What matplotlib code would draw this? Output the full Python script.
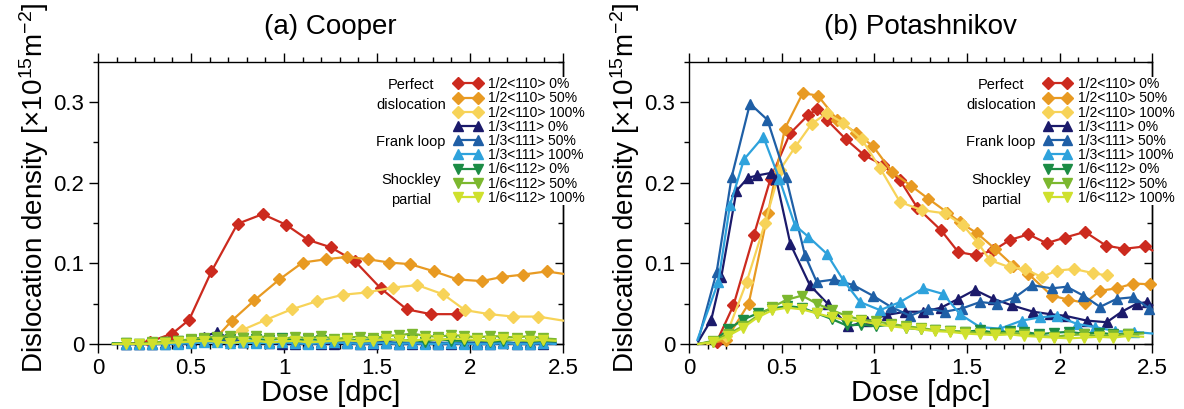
#!/usr/bin/env python3
"""Dislocation density vs dose for two interatomic potentials (Cooper / Potashnikov)."""

import matplotlib
matplotlib.use("Agg")
import matplotlib.pyplot as plt
from matplotlib.ticker import MultipleLocator

plt.rcParams["font.family"] = ["Liberation Sans", "DejaVu Sans"]
plt.rcParams["mathtext.fontset"] = "custom"
plt.rcParams["mathtext.rm"] = "Liberation Sans"
plt.rcParams["mathtext.it"] = "Liberation Sans:italic"

# ─────────────────────────────────────────────────────────────────────────────
# Data
# ─────────────────────────────────────────────────────────────────────────────

LABELS = [
    "1/2<110> 0%", "1/2<110> 50%", "1/2<110> 100%",
    "1/3<111> 0%", "1/3<111> 50%", "1/3<111> 100%",
    "1/6<112> 0%", "1/6<112> 50%", "1/6<112> 100%",
]

# (a) Cooper -- perfect dislocations
a_p0_x = [0.15, 0.28, 0.40, 0.49, 0.61, 0.75, 0.885, 1.01, 1.13, 1.25, 1.38, 1.52, 1.66, 1.79, 1.93]
a_p0_y = [0.000, 0.003, 0.013, 0.030, 0.090, 0.149, 0.161, 0.148, 0.129, 0.120, 0.103, 0.069, 0.043, 0.037, 0.037]
a_p50_x = [0.62, 0.72, 0.84, 0.975, 1.10, 1.224, 1.34, 1.453, 1.566, 1.677, 1.808, 1.934, 2.063, 2.17, 2.283, 2.412, 2.5]
a_p50_y = [0.004, 0.029, 0.054, 0.080, 0.101, 0.105, 0.108, 0.105, 0.101, 0.099, 0.090, 0.080, 0.078, 0.083, 0.086, 0.090, 0.087]
a_p100_x = [0.64, 0.772, 0.903, 1.041, 1.176, 1.315, 1.448, 1.584, 1.717, 1.857, 1.973, 2.104, 2.233, 2.367, 2.5]
a_p100_y = [0.004, 0.017, 0.030, 0.043, 0.053, 0.061, 0.064, 0.070, 0.073, 0.0615, 0.042, 0.037, 0.034, 0.034, 0.029]

# (a) Cooper -- Frank loops and Shockley partials (all close to zero)
a_lo_x = [0.08, 0.15, 0.22, 0.29, 0.36, 0.43, 0.50, 0.57, 0.64, 0.71, 0.78, 0.85, 0.92, 0.99, 1.06, 1.13, 1.20, 1.27,
          1.34, 1.41, 1.48, 1.55, 1.62, 1.69, 1.76, 1.83, 1.90, 1.97, 2.04, 2.11, 2.18, 2.25, 2.32, 2.39, 2.46]
a_f0_y = [0, 0, 0, 0, 0.001, 0.002, 0.005, 0.009, 0.015, 0.006, 0.003, 0.002, 0.001, 0, 0, 0.001, 0, 0,
          0.001, 0, 0, 0.001, 0, 0, 0.001, 0, 0, 0.001, 0, 0, 0.001, 0, 0, 0, 0]
a_f50_y = [0, 0, 0, 0, 0, 0.001, 0.002, 0.004, 0.005, 0.004, 0.003, 0.002, 0.002, 0.003, 0.002, 0.001, 0.002, 0.003,
           0.002, 0.001, 0.002, 0.003, 0.001, 0.002, 0.001, 0.002, 0.001, 0.001, 0.002, 0.003, 0.002, 0.001, 0.002, 0.001, 0.001]
a_f100_y = [0, 0, 0, 0, 0, 0, 0.001, 0.002, 0.002, 0.001, 0.002, 0.001, 0.001, 0.002, 0.001, 0, 0.001, 0.002,
            0.001, 0, 0.001, 0.001, 0, 0.001, 0, 0, 0.001, 0, 0, 0, 0.001, 0, 0, 0.001, 0]
a_s0_y = [0.001, 0.001, 0, 0.001, 0.003, 0.004, 0.005, 0.006, 0.007, 0.006, 0.008, 0.006, 0.005, 0.007, 0.004, 0.006, 0.005, 0.004,
          0.006, 0.004, 0.005, 0.006, 0.004, 0.005, 0.003, 0.006, 0.004, 0.004, 0.005, 0.003, 0.004, 0.005, 0.003, 0.004, 0.003]
a_s50_y = [0, 0.001, 0, 0.002, 0.003, 0.004, 0.006, 0.008, 0.009, 0.010, 0.007, 0.010, 0.008, 0.006, 0.009, 0.007, 0.010, 0.006,
           0.008, 0.009, 0.007, 0.010, 0.011, 0.013, 0.010, 0.009, 0.011, 0.010, 0.008, 0.010, 0.009, 0.008, 0.010, 0.007, 0.006]
a_s100_y = [0, 0, 0, 0, 0.001, 0.002, 0.003, 0.004, 0.003, 0.001, 0.003, 0.004, 0.002, 0.003, 0.004, 0.002, 0.003, 0.004,
            0.005, 0.003, 0.004, 0.006, 0.005, 0.004, 0.006, 0.005, 0.007, 0.006, 0.005, 0.004, 0.006, 0.005, 0.004, 0.005, 0.004]

# (b) Potashnikov -- perfect dislocations
b_p0_x = [0.05, 0.15, 0.24, 0.35, 0.44, 0.545, 0.644, 0.692, 0.743, 0.846, 0.946, 1.045, 1.139, 1.232, 1.36, 1.453,
          1.549, 1.642, 1.732, 1.831, 1.93, 2.029, 2.137, 2.25, 2.348, 2.461, 2.5]
b_p0_y = [0.0, 0.003, 0.048, 0.135, 0.205, 0.261, 0.284, 0.291, 0.278, 0.254, 0.234, 0.222, 0.203, 0.169, 0.141, 0.114,
          0.110, 0.116, 0.129, 0.136, 0.125, 0.132, 0.139, 0.122, 0.118, 0.121, 0.116]
b_p50_x = [0.10, 0.20, 0.322, 0.427, 0.517, 0.614, 0.695, 0.80, 0.90, 0.994, 1.097, 1.199, 1.292, 1.394, 1.462, 1.556,
           1.651, 1.75, 1.831, 1.957, 2.047, 2.137, 2.218, 2.308, 2.398, 2.488, 2.5]
b_p50_y = [0.0, 0.005, 0.050, 0.163, 0.267, 0.311, 0.308, 0.278, 0.262, 0.245, 0.213, 0.196, 0.180, 0.163, 0.151, 0.137,
           0.118, 0.097, 0.087, 0.060, 0.055, 0.051, 0.066, 0.069, 0.075, 0.074, 0.073]
b_p100_x = [0.10, 0.20, 0.311, 0.41, 0.491, 0.572, 0.662, 0.743, 0.833, 0.932, 1.031, 1.139, 1.256, 1.38, 1.48, 1.56,
            1.624, 1.732, 1.813, 1.903, 1.984, 2.078, 2.178, 2.254]
b_p100_y = [0.0, 0.010, 0.077, 0.150, 0.216, 0.244, 0.273, 0.286, 0.274, 0.254, 0.218, 0.176, 0.166, 0.162, 0.147, 0.125,
            0.104, 0.095, 0.093, 0.083, 0.091, 0.093, 0.088, 0.085]

# (b) Potashnikov -- Frank loops
b_f0_x = [0.05, 0.12, 0.174, 0.256, 0.318, 0.369, 0.44, 0.47, 0.547, 0.652, 0.748, 0.86, 0.963, 1.066, 1.168, 1.26,
          1.36, 1.453, 1.543, 1.642, 1.741, 1.858, 1.948, 2.029, 2.146, 2.254, 2.335, 2.416, 2.47, 2.5]
b_f0_y = [0.003, 0.030, 0.083, 0.190, 0.206, 0.209, 0.212, 0.205, 0.124, 0.073, 0.050, 0.022, 0.028, 0.036, 0.040, 0.040,
          0.045, 0.056, 0.067, 0.056, 0.048, 0.040, 0.037, 0.035, 0.029, 0.027, 0.040, 0.050, 0.052, 0.048]
b_f50_x = [0.05, 0.149, 0.23, 0.329, 0.423, 0.523, 0.626, 0.689, 0.784, 0.887, 0.991, 1.09, 1.193, 1.292, 1.38, 1.472,
           1.57, 1.661, 1.76, 1.85, 1.957, 2.038, 2.128, 2.218, 2.308, 2.398, 2.484, 2.5]
b_f50_y = [0.005, 0.089, 0.207, 0.298, 0.278, 0.207, 0.110, 0.077, 0.080, 0.073, 0.060, 0.046, 0.035, 0.044, 0.040, 0.044,
           0.052, 0.050, 0.058, 0.073, 0.069, 0.071, 0.060, 0.046, 0.056, 0.058, 0.044, 0.043]
b_f100_x = [0.045, 0.158, 0.221, 0.297, 0.401, 0.487, 0.572, 0.644, 0.743, 0.833, 0.923, 1.031, 1.139, 1.265, 1.372,
            1.462, 1.570, 1.678, 1.795, 1.894, 1.984, 2.092, 2.191, 2.30, 2.40, 2.5]
b_f100_y = [0.005, 0.077, 0.172, 0.229, 0.257, 0.205, 0.147, 0.133, 0.112, 0.079, 0.052, 0.042, 0.052, 0.069, 0.062,
            0.037, 0.021, 0.019, 0.029, 0.033, 0.035, 0.025, 0.021, 0.016, 0.015, 0.013]

# (b) Potashnikov -- Shockley partials
b_s_x = [0.05, 0.13, 0.21, 0.29, 0.37, 0.45, 0.53, 0.61, 0.69, 0.77, 0.85, 0.93, 1.01, 1.09, 1.17, 1.25,
         1.33, 1.41, 1.49, 1.57, 1.65, 1.73, 1.81, 1.89, 1.97, 2.05, 2.13, 2.21, 2.29, 2.37, 2.45]
b_s0_y = [0.0, 0.003, 0.018, 0.030, 0.038, 0.044, 0.047, 0.045, 0.038, 0.031, 0.023, 0.024, 0.022, 0.024, 0.020, 0.018,
          0.017, 0.016, 0.015, 0.017, 0.014, 0.016, 0.015, 0.012, 0.014, 0.015, 0.013, 0.014, 0.012, 0.013, 0.014]
b_s50_y = [0.0, 0.004, 0.012, 0.022, 0.035, 0.046, 0.055, 0.060, 0.050, 0.042, 0.035, 0.030, 0.028, 0.025, 0.022, 0.020,
           0.017, 0.016, 0.015, 0.014, 0.013, 0.014, 0.012, 0.010, 0.009, 0.011, 0.012, 0.010, 0.011, 0.012, 0.013]
b_s100_y = [0.0, 0.002, 0.010, 0.020, 0.033, 0.042, 0.045, 0.043, 0.038, 0.033, 0.030, 0.028, 0.025, 0.022, 0.020, 0.018,
            0.016, 0.015, 0.013, 0.012, 0.011, 0.012, 0.010, 0.009, 0.008, 0.007, 0.008, 0.009, 0.008, 0.010, 0.009]

COLORS = ["#cc2a1e", "#e89a22", "#f7d358",
          "#1b1a6b", "#1f5fa6", "#2ea2dc",
          "#1c8c45", "#7cb82f", "#cfe02d"]
MARKERS = ["D"] * 3 + ["^"] * 3 + ["v"] * 3


def panel_series(which):
    if which == "a":
        return [
            (a_p0_x, a_p0_y), (a_p50_x, a_p50_y), (a_p100_x, a_p100_y),
            (a_lo_x, a_f0_y), (a_lo_x, a_f50_y), (a_lo_x, a_f100_y),
            (a_lo_x, a_s0_y), (a_lo_x, a_s50_y), (a_lo_x, a_s100_y),
        ]
    return [
        (b_p0_x, b_p0_y), (b_p50_x, b_p50_y), (b_p100_x, b_p100_y),
        (b_f0_x, b_f0_y), (b_f50_x, b_f50_y), (b_f100_x, b_f100_y),
        (b_s_x, b_s0_y), (b_s_x, b_s50_y), (b_s_x, b_s100_y),
    ]


def style_axes(ax):
    ax.set_xlim(0, 2.5)
    ax.set_ylim(0, 0.35)
    ax.xaxis.set_major_locator(MultipleLocator(0.5))
    ax.xaxis.set_minor_locator(MultipleLocator(0.1))
    ax.yaxis.set_major_locator(MultipleLocator(0.1))
    ax.yaxis.set_minor_locator(MultipleLocator(0.05))
    ax.xaxis.set_major_formatter(lambda v, pos: f"{v:g}")
    ax.yaxis.set_major_formatter(lambda v, pos: f"{v:g}")
    ax.tick_params(which="both", direction="out", top=True, right=False, labelsize=16, width=1.0)
    ax.tick_params(which="major", length=6.5)
    ax.tick_params(which="minor", length=3.5)
    for sp in ax.spines.values():
        sp.set_linewidth(1.0)
    # right-hand ticks point inward
    sec = ax.secondary_yaxis("right")
    sec.yaxis.set_major_locator(MultipleLocator(0.1))
    sec.yaxis.set_minor_locator(MultipleLocator(0.05))
    sec.tick_params(which="both", direction="in", labelright=False, width=1.0)
    sec.tick_params(which="major", length=6)
    sec.tick_params(which="minor", length=3.5)
    sec.spines["right"].set_linewidth(1.0)


def draw_panel(ax, which, title):
    for (x, y), c, m, lab in zip(panel_series(which), COLORS, MARKERS, LABELS):
        # line-only ends where the curve runs into the frame
        every = slice(1, -1) if x[-1] >= 2.45 else slice(1, None)
        ax.plot(x, y, color=c, marker=m, markersize=6 if m == "D" else 7, lw=1.6,
                markevery=every, label=lab, clip_on=False, zorder=3)
    style_axes(ax)
    ax.set_title(title, fontsize=20, pad=20)
    ax.set_xlabel("Dose [dpc]", fontsize=21, labelpad=0)
    ax.set_ylabel(r"Dislocation density [×10$^{\mathregular{15}}$m$^{\mathregular{-2}}$]", fontsize=20)
    ax.yaxis.set_label_coords(-0.102, 0.553)

    leg = ax.legend(loc="upper left", bbox_to_anchor=(0.766, 0.945), fontsize=10, numpoints=2,
                    handlelength=2.0, handletextpad=0.45, labelspacing=0.015, borderpad=0.0,
                    borderaxespad=0, frameon=True, fancybox=False)
    leg.get_frame().set_facecolor("white")
    leg.get_frame().set_edgecolor("none")
    leg.get_frame().set_alpha(1.0)
    leg.set_zorder(10)

    for txt, yf in [("Perfect", 0.917), ("dislocation", 0.847), ("Frank loop", 0.716),
                    ("Shockley", 0.581), ("partial", 0.51)]:
        ax.text(0.673, yf, txt, transform=ax.transAxes, ha="center", va="center", fontsize=10.5, zorder=11)


def main():
    fig = plt.figure(figsize=(11.84, 4.09), dpi=100)
    ax_a = fig.add_axes([98 / 1184, 1 - 344 / 409, 465 / 1184, 282.3 / 409])
    ax_b = fig.add_axes([689 / 1184, 1 - 344 / 409, 463.3 / 1184, 282.3 / 409])
    draw_panel(ax_a, "a", "(a) Cooper")
    draw_panel(ax_b, "b", "(b) Potashnikov")
    fig.savefig("out.png", dpi=100)
    plt.close(fig)


if __name__ == "__main__":
    main()
